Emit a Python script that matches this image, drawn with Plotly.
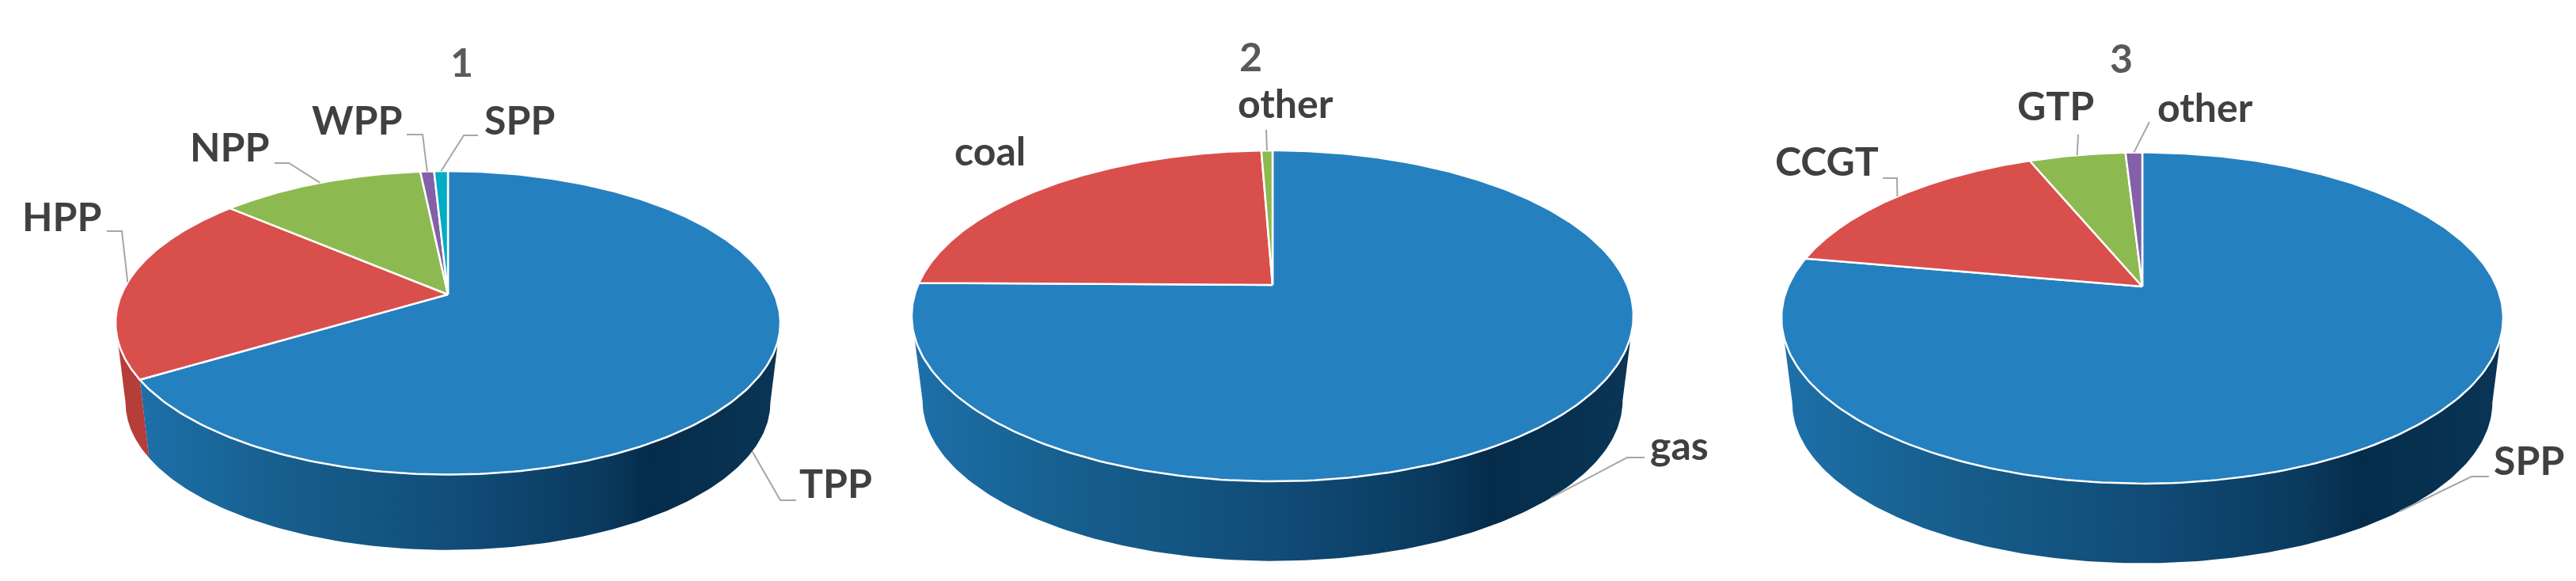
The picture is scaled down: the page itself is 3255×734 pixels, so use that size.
import numpy as np
import plotly.graph_objects as go

# ---- data (percent of each pie, clockwise from 12 o'clock)
labels_1 = ["TPP", "HPP", "NPP", "WPP", "SPP"]
values_1 = [66.2, 20.3, 11.9, 0.8, 0.8]
labels_2 = ["gas", "coal", "other"]
values_2 = [75.2, 24.2, 0.6]
labels_3 = ["SPP", "CCGT", "GTP", "other"]
values_3 = [77.9, 16.0, 5.2, 0.9]
titles = ["1", "2", "3"]

# ---- styles and layout
C_BLUE, C_RED, C_GREEN, C_PURPLE, C_CYAN = "#2580BF", "#D94F4C", "#8CBA50", "#8460A8", "#00ACC6"
C_RED_WALL = "#B53D3A"
W, H = 3255, 734
PAGE_MARGIN = 8  # the page body keeps an 8 px margin round the figure
FONT = "Lato"
WALL_SCALE = [[0, "#1D70AA"], [0.2, "#17608F"], [0.5, "#114C78"], [0.72, "#0A3A5E"],
              [0.8, "#052C4A"], [1, "#0A3556"]]

pies = [
    dict(title=titles[0], title_xy=(583, 78), labels=labels_1, values=values_1,
         colors=[C_BLUE, C_RED, C_GREEN, C_PURPLE, C_CYAN],
         walls=[None, C_RED_WALL],
         cx=566, cy=372, rx=420, b=185, k=0.187, depth=102, shrink=0.97,
         text_xy=[(1056, 610), (78, 273), (290, 185), (451, 151), (656, 151)],
         leaders=[dict(path=[(986, 632), (1006, 632)], drop=1),
                  dict(path=[(154, 292), (135, 292)], drop=0),
                  dict(path=[(365, 206), (347, 206)], drop=0),
                  dict(path=[(534, 170), (514, 170)], drop=0),
                  dict(path=[(586, 171), (604, 171)], drop=0)]),
    dict(title=titles[1], title_xy=(1580, 71), labels=labels_2, values=values_2,
         colors=[C_BLUE, C_RED, C_GREEN],
         walls=[None],
         cx=1608, cy=360, rx=456, b=201.7, k=0.187, depth=108, shrink=0.97,
         text_xy=[(2122, 562), (1251, 190), (1624, 130)],
         leaders=[dict(path=[(2056, 578), (2078, 578)], drop=1),
                  None,
                  dict(path=[(1600, 164)], drop=0)]),
    dict(title=titles[2], title_xy=(2680, 73), labels=labels_3, values=values_3,
         colors=[C_BLUE, C_RED, C_GREEN, C_PURPLE],
         walls=[None],
         cx=2707, cy=362, rx=456, b=201.6, k=0.19, depth=108, shrink=0.97,
         text_xy=[(3195, 581), (2308, 203), (2597, 133), (2786, 135)],
         leaders=[dict(path=[(3123, 602), (3145, 602)], drop=1),
                  dict(path=[(2397, 225), (2379, 225)], drop=0),
                  dict(path=[(2626, 170)], drop=0),
                  dict(path=[(2716, 154)], drop=0)]),
]


def rim(p, theta, lower=False):
    """Project a point of the disc rim (theta clockwise from top) with perspective."""
    u, v = np.sin(theta), np.cos(theta)
    w = 1 + p["k"] * v
    a = p["rx"] * np.sqrt(1 - p["k"] ** 2)
    s = p["shrink"] if lower else 1.0
    x = p["cx"] + s * a * u / w
    y = p["cy"] - s * p["b"] * v / w + (p["depth"] if lower else 0)
    return x, y


fig = go.Figure()
annotations = []

for p in pies:
    vals = np.array(p["values"], dtype=float)
    edges = np.concatenate([[0], np.cumsum(vals)]) / vals.sum() * 2 * np.pi
    # the wall is visible between the two widest points of the projected disc
    t_right = np.arccos(-p["k"])
    t_left = 2 * np.pi - t_right

    # walls
    for i in range(len(vals)):
        t0, t1 = max(edges[i], t_right), min(edges[i + 1], t_left)
        if t1 <= t0:
            continue
        t = np.linspace(t0, t1, 160)
        xt, yt = rim(p, t)
        xb, yb = rim(p, t[::-1], lower=True)
        xs = np.concatenate([xt, xb, xt[:1]])
        ys = np.concatenate([yt, yb, yt[:1]])
        wall = p["walls"][i]
        kw = dict(x=xs, y=ys, mode="lines", line=dict(width=0), fill="toself",
                  hoverinfo="skip", showlegend=False)
        if wall is None:
            fig.add_trace(go.Scatter(fillgradient=dict(
                type="horizontal", colorscale=WALL_SCALE,
                start=float(xs.min()), stop=float(xs.max())), **kw))
        else:
            fig.add_trace(go.Scatter(fillcolor=wall, **kw))

    # top slices
    for i in range(len(vals)):
        t = np.linspace(edges[i], edges[i + 1], 240)
        x, y = rim(p, t)
        fig.add_trace(go.Scatter(
            x=np.concatenate([[p["cx"]], x, [p["cx"]]]),
            y=np.concatenate([[p["cy"]], y, [p["cy"]]]),
            mode="lines", fill="toself", fillcolor=p["colors"][i],
            line=dict(color="#FFFFFF", width=2.5), name=p["labels"][i],
            hoverinfo="name", showlegend=False))

    # leader lines
    for i, ld in enumerate(p["leaders"]):
        if ld is None:
            continue
        tm = (edges[i] + edges[i + 1]) / 2
        xa, ya = rim(p, tm)
        xl, yl = rim(p, tm, lower=True)
        xa = xa + (xl - xa) * ld["drop"]
        ya = ya + (yl - ya) * ld["drop"]
        fig.add_trace(go.Scatter(
            x=[xa] + [q[0] for q in ld["path"]], y=[ya] + [q[1] for q in ld["path"]],
            mode="lines", line=dict(color="#A6A6A6", width=2),
            hoverinfo="skip", showlegend=False))

    # texts
    for txt, (tx, ty) in zip(p["labels"], p["text_xy"]):
        annotations.append(dict(x=tx, y=ty, text=txt, showarrow=False, xanchor="center",
                                yanchor="middle",
                                font=dict(family=FONT, size=50, color="#404040", weight=700)))
    annotations.append(dict(x=p["title_xy"][0], y=p["title_xy"][1], text=p["title"],
                            showarrow=False, xanchor="center", yanchor="middle",
                            font=dict(family=FONT, size=50, color="#595959", weight=700)))

fig.update_layout(
    width=W - PAGE_MARGIN, height=H - PAGE_MARGIN, margin=dict(l=0, r=0, t=0, b=0), autosize=False,
    paper_bgcolor="#FFFFFF", plot_bgcolor="#FFFFFF", showlegend=False,
    xaxis=dict(range=[PAGE_MARGIN, W], visible=False, fixedrange=True),
    yaxis=dict(range=[H, PAGE_MARGIN], visible=False, fixedrange=True),
    annotations=annotations,
)
fig.write_html("out.html", config=dict(displayModeBar=False))
